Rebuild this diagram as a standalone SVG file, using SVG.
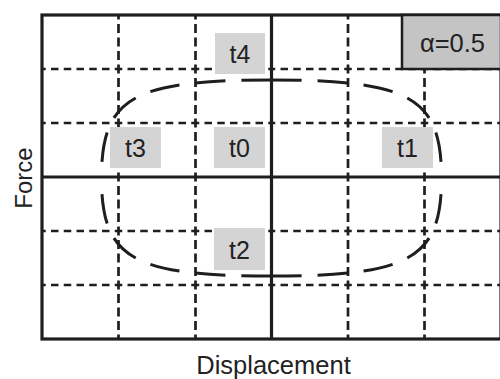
<svg xmlns="http://www.w3.org/2000/svg" width="500" height="379" viewBox="0 0 500 379">
<style>
.frame{fill:none;stroke:#1e1e1e;stroke-width:3.2}
.dh{fill:none;stroke:#1e1e1e;stroke-width:2.7;stroke-dasharray:7.5 5.25;stroke-dashoffset:3.75}
.dv{fill:none;stroke:#1e1e1e;stroke-width:2.7;stroke-dasharray:9 4.5;stroke-dashoffset:4.5}
.orbit{fill:none;stroke:#1e1e1e;stroke-width:3;stroke-dasharray:13 7}
.lbl{fill:#d4d4d4}
.t{font-family:"Liberation Sans",Arial,sans-serif;font-size:25px;fill:#222;text-anchor:middle}
.ax{font-family:"Liberation Sans",Arial,sans-serif;font-size:25.5px;fill:#222;text-anchor:middle}
</style>
<rect width="500" height="379" fill="#fff"/>
<g id="grid">
<path class="dv" d="M118.5 15V69M118.5 69V123M118.5 123V177M118.5 177V231M118.5 231V285M118.5 285V339M195.5 15V69M195.5 69V123M195.5 123V177M195.5 177V231M195.5 231V285M195.5 285V339M348 15V69M348 69V123M348 123V177M348 177V231M348 231V285M348 285V339M424.5 69V123M424.5 123V177M424.5 177V231M424.5 231V285M424.5 285V339"/>
<path class="dh" d="M42 69H118.5M118.5 69H195.5M195.5 69H271.5M271.5 69H348M348 69H424.5M424.5 69H501M42 123H118.5M118.5 123H195.5M195.5 123H271.5M271.5 123H348M348 123H424.5M424.5 123H501M42 231H118.5M118.5 231H195.5M195.5 231H271.5M271.5 231H348M348 231H424.5M424.5 231H501M42 285H118.5M118.5 285H195.5M195.5 285H271.5M271.5 285H348M348 285H424.5M424.5 285H501"/>
<path class="frame" d="M271.5 15V339M42 177H501"/>
<rect class="frame" x="42" y="15" width="459" height="324"/>
</g>
<g id="connectors">
<path class="orbit" pathLength="100" d="M271.5 80C410.9 80 441.5 97.6 441.5 178"/>
<path class="orbit" pathLength="100" d="M271.5 80C132.1 80 101.5 97.6 101.5 178"/>
<path class="orbit" pathLength="100" d="M271.5 276C410.9 276 441.5 258.4 441.5 178"/>
<path class="orbit" pathLength="100" d="M271.5 276C132.1 276 101.5 258.4 101.5 178"/>
</g>
<g id="alpha">
<rect x="402" y="15" width="99" height="54" fill="#c4c4c4" stroke="#1e1e1e" stroke-width="2.5"/>
<text class="ax" x="452.5" y="52">α=0.5</text>
</g>
<g id="t4"><rect class="lbl" x="215" y="33" width="50" height="41"/><text class="t" x="240" y="63">t4</text></g>
<g id="t3"><rect class="lbl" x="110" y="127" width="51" height="41"/><text class="t" x="135.5" y="157">t3</text></g>
<g id="t0"><rect class="lbl" x="214" y="127" width="51" height="41"/><text class="t" x="239.5" y="157">t0</text></g>
<g id="t1"><rect class="lbl" x="382" y="127" width="51" height="41"/><text class="t" x="407.5" y="157">t1</text></g>
<g id="t2"><rect class="lbl" x="214" y="228" width="51" height="42"/><text class="t" x="239.5" y="259">t2</text></g>
<g id="axes">
<text class="ax" x="273.5" y="374">Displacement</text>
<text class="ax" transform="translate(32 178) rotate(-90)" x="0" y="0" style="font-size:24px">Force</text>
</g>
</svg>
